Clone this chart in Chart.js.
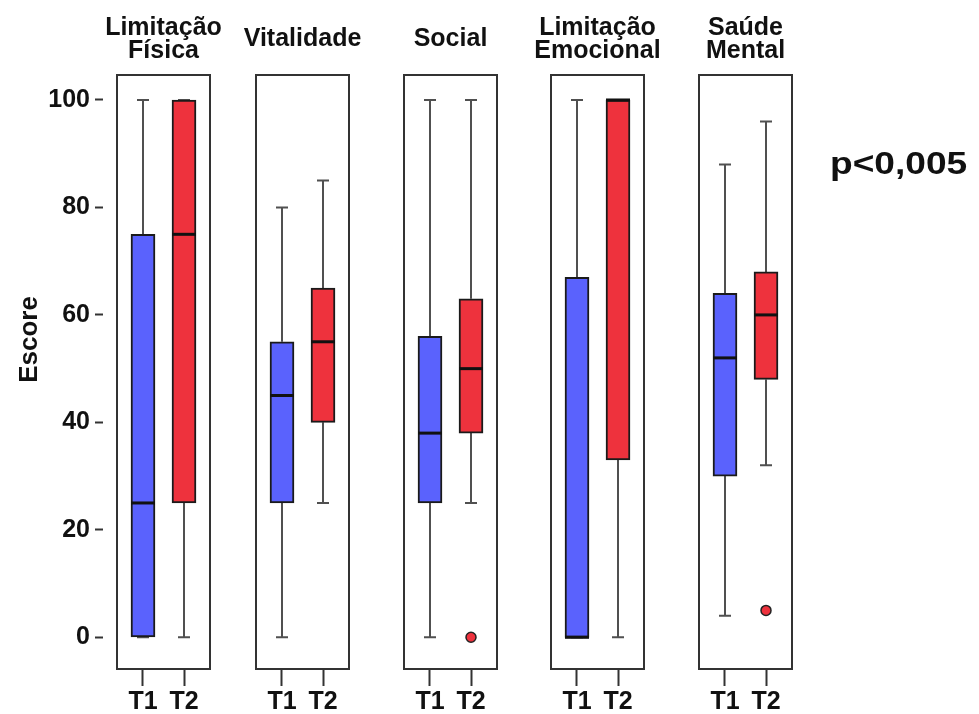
<!DOCTYPE html>
<html lang="pt">
<head>
<meta charset="utf-8">
<title>Escore T1 vs T2</title>
<script src="https://cdn.jsdelivr.net/npm/chart.js@4.4.1/dist/chart.umd.min.js"></script>
<style>
  html, body { margin: 0; padding: 0; background: #ffffff; }
  #stage { position: relative; width: 979px; height: 714px; background: #ffffff; overflow: hidden; }
  .panel { position: absolute; top: 0; }
  #pvalue { position: absolute; left: 830px; top: 147px; font-family: "Liberation Sans", Arial, sans-serif;
            font-weight: bold; font-size: 32px; line-height: 1; color: #111; white-space: nowrap;
            transform: scaleX(1.16); transform-origin: left top; }
</style>
</head>
<body>
<div id="stage"></div>
<script>
// ---------- data ----------
const panelTitles = [['Limitação', 'Física'], 'Vitalidade', 'Social', ['Limitação', 'Emocional'], ['Saúde', 'Mental']];
const groups = ['T1', 'T2'];
const yTicks = [0, 20, 40, 60, 80, 100];
const yTitle = 'Escore';
const pValueText = 'p<0,005';

const t1Min    = [0, 0, 0, 0, 4];
const t1Q1     = [0, 25, 25, 0, 30];
const t1Median = [25, 45, 38, 0, 52];
const t1Q3     = [75, 55, 56, 67, 64];
const t1Max    = [100, 80, 100, 100, 88];

const t2Min    = [0, 25, 25, 0, 32];
const t2Q1     = [25, 40, 38, 33, 48];
const t2Median = [75, 55, 50, 100, 60];
const t2Q3     = [100, 65, 63, 100, 68];
const t2Max    = [100, 85, 100, 100, 96];

const t1Outliers = [[], [], [], [], []];
const t2Outliers = [[], [], [0], [], [5]];

// ---------- style / layout ----------
const FONT = '"Liberation Sans", Arial, Helvetica, sans-serif';
const BLUE = '#5a62fd';
const RED = '#ee323d';
const INK = '#111111';
const FRAME = '#333333';
const frameLeft = [117, 256, 404, 551, 699];
const frameWidth = 93;
const sideWidth = 40;
const CHART_H = 714;

Chart.defaults.font.family = FONT;
Chart.defaults.color = INK;

const stage = document.getElementById('stage');
const pv = document.createElement('div');
pv.id = 'pvalue';
pv.textContent = pValueText;

function makeBoxPlugin(i) {
  const stats = [
    { min: t1Min[i], q1: t1Q1[i], median: t1Median[i], q3: t1Q3[i], max: t1Max[i] },
    { min: t2Min[i], q1: t2Q1[i], median: t2Median[i], q3: t2Q3[i], max: t2Max[i] }
  ];
  return {
    id: 'boxStats' + i,
    beforeDatasetsDraw(chart) {
      const { ctx, scales: { x, y } } = chart;
      ctx.save();
      ctx.strokeStyle = '#505050';
      ctx.lineWidth = 2;
      stats.forEach((s, k) => {
        const px = Math.round(x.getPixelForValue(k));
        const pMin = y.getPixelForValue(s.min), pQ1 = y.getPixelForValue(s.q1);
        const pQ3 = y.getPixelForValue(s.q3), pMax = y.getPixelForValue(s.max);
        ctx.beginPath();
        ctx.moveTo(px, pQ1); ctx.lineTo(px, pMin);
        ctx.moveTo(px, pQ3); ctx.lineTo(px, pMax);
        ctx.moveTo(px - 6, pMin); ctx.lineTo(px + 6, pMin);
        ctx.moveTo(px - 6, pMax); ctx.lineTo(px + 6, pMax);
        ctx.stroke();
      });
      ctx.restore();
    },
    afterDatasetsDraw(chart) {
      const { ctx, scales: { x, y }, chartArea } = chart;
      ctx.save();
      ctx.strokeStyle = '#111111';
      ctx.lineWidth = 3;
      stats.forEach((s, k) => {
        const px = x.getPixelForValue(k);
        const pMed = y.getPixelForValue(s.median);
        ctx.beginPath();
        ctx.moveTo(px - 12, pMed); ctx.lineTo(px + 12, pMed);
        ctx.stroke();
      });
      ctx.strokeStyle = FRAME;
      ctx.lineWidth = 2;
      ctx.strokeRect(chartArea.left, chartArea.top, chartArea.right - chartArea.left, chartArea.bottom - chartArea.top);
      ctx.restore();
    }
  };
}

function emptyAxis(position, weight, width) {
  return {
    type: 'linear', position: position, weight: weight, display: true,
    ticks: { display: false }, grid: { display: false }, border: { display: false },
    afterFit: s => { s.width = width; }
  };
}

for (let i = 0; i < 5; i++) {
  const first = i === 0;
  const leftW = first ? frameLeft[0] : sideWidth;
  const rightW = first ? frameLeft[0] : sideWidth;
  const canvasLeft = frameLeft[i] - leftW;
  const canvasW = leftW + frameWidth + rightW;

  const wrap = document.createElement('div');
  wrap.className = 'panel';
  wrap.style.left = canvasLeft + 'px';
  wrap.style.width = canvasW + 'px';
  wrap.style.height = CHART_H + 'px';
  const cv = document.createElement('canvas');
  cv.width = canvasW; cv.height = CHART_H;
  wrap.appendChild(cv);
  stage.appendChild(wrap);

  const q1 = [t1Q1[i], t2Q1[i]];
  const q3 = [t1Q3[i], t2Q3[i]];
  const twoLines = Array.isArray(panelTitles[i]);

  const yMain = {
    type: 'linear', position: 'left', weight: 1,
    min: -5.9, max: 104.65,
    afterBuildTicks: s => { s.ticks = yTicks.map(v => ({ value: v })); }
  };
  const scales = {
    x: {
      type: 'linear', min: -0.634, max: 1.634, offset: false,
      grid: { display: true, offset: false, drawOnChartArea: false, drawTicks: true, tickLength: 17, tickWidth: 2, tickColor: FRAME },
      border: { display: false },
      ticks: { padding: 3.5, autoSkip: false, maxRotation: 0, color: INK,
               font: { size: 25, weight: 'bold', lineHeight: 1 },
               callback: v => groups[v] },
      afterBuildTicks: s => { s.ticks = groups.map((g, k) => ({ value: k })); },
      afterFit: s => { s.height = 45; }
    },
    yRight: emptyAxis('right', 0, rightW)
  };
  if (first) {
    Object.assign(yMain, {
      display: true,
      grid: { display: true, drawOnChartArea: false, drawTicks: true, tickLength: 8, tickWidth: 2, tickColor: FRAME },
      border: { display: false },
      ticks: { padding: 5, color: INK, font: { size: 25, weight: 'bold', lineHeight: 1 } },
      title: { display: true, text: '         ' + yTitle, color: INK,
               font: { size: 26, weight: 'bold', lineHeight: 1 }, padding: { top: 17, bottom: 0 } },
      afterFit: s => { s.width = 103; }
    });
    scales.ySpacer = emptyAxis('left', 0, 14);
  } else {
    Object.assign(yMain, {
      display: true, ticks: { display: false }, grid: { display: false }, border: { display: false },
      afterFit: s => { s.width = sideWidth; }
    });
  }
  scales.y = yMain;

  new Chart(cv, {
    type: 'bar',
    data: {
      datasets: [
        {
          type: 'bar',
          label: 'Caixa',
          data: groups.map((g, k) => ({ x: k, y: [q1[k], q3[k]] })),
          backgroundColor: [BLUE, RED],
          borderColor: '#1a1a1a',
          borderWidth: 2,
          borderSkipped: false,
          barThickness: 24,
          xAxisID: 'x', yAxisID: 'y'
        },
        {
          type: 'line',
          label: 'T1 outliers',
          data: t1Outliers[i].map(v => ({ x: 0, y: v })),
          showLine: false, pointRadius: 5, pointBackgroundColor: BLUE,
          pointBorderColor: '#222', pointBorderWidth: 1.5,
          xAxisID: 'x', yAxisID: 'y'
        },
        {
          type: 'line',
          label: 'T2 outliers',
          data: t2Outliers[i].map(v => ({ x: 1, y: v })),
          showLine: false, pointRadius: 5, pointBackgroundColor: RED,
          pointBorderColor: '#222', pointBorderWidth: 1.5,
          xAxisID: 'x', yAxisID: 'y'
        }
      ]
    },
    options: {
      responsive: false,
      animation: false,
      devicePixelRatio: 1,
      layout: { padding: 0 },
      scales: scales,
      plugins: {
        legend: { display: false },
        tooltip: { enabled: false },
        title: {
          display: true, text: panelTitles[i], color: INK, fullSize: true,
          font: { size: 25, weight: 'bold', lineHeight: 23.5 / 25 },
          padding: twoLines ? { top: 16, bottom: 12 } : { top: 27.75, bottom: 23.75 }
        }
      }
    },
    plugins: [makeBoxPlugin(i)]
  });
}
stage.appendChild(pv);
</script>
</body>
</html>
